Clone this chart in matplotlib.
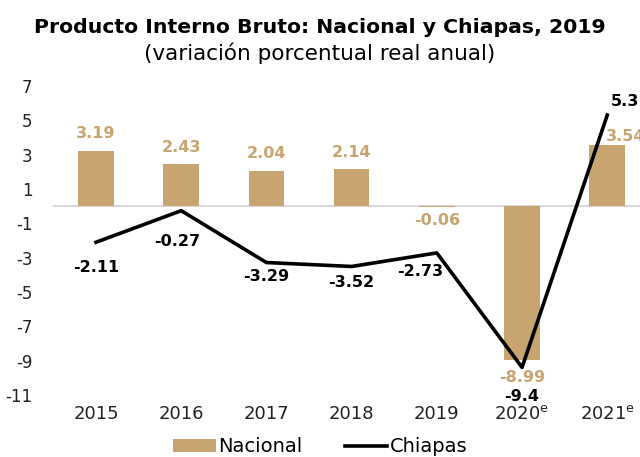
import matplotlib
matplotlib.use('Agg')
import matplotlib.pyplot as plt
import numpy as np

# datos (variacion porcentual real anual)
years = ['2015', '2016', '2017', '2018', '2019', '2020$^{\\mathrm{e}}$', '2021$^{\\mathrm{e}}$']
nacional = [3.19, 2.43, 2.04, 2.14, -0.06, -8.99, 3.54]
chiapas = [-2.11, -0.27, -3.29, -3.52, -2.73, -9.4, 5.3]
nac_txt = ['3.19', '2.43', '2.04', '2.14', '-0.06', '-8.99', '3.54']
chi_txt = ['-2.11', '-0.27', '-3.29', '-3.52', '-2.73', '-9.4', '5.3']
yticks = [7, 5, 3, 1, -1, -3, -5, -7, -9, -11]

plt.rcParams['font.family'] = 'DejaVu Sans'
plt.rcParams['mathtext.fontset'] = 'custom'
plt.rcParams['mathtext.rm'] = 'DejaVu Sans'
plt.rcParams['axes.unicode_minus'] = False

tan = '#C8A470'
fig = plt.figure(figsize=(6.4, 4.57), dpi=100)
ax = fig.add_axes([0.0834, 0.136, 0.932, 0.676])

x = np.arange(len(years))
bars = ax.bar(x, nacional, width=0.417, color=tan, label='Nacional', zorder=2)
line, = ax.plot(x, chiapas, color='black', linewidth=2.6, label='Chiapas', zorder=3)
ax.axhline(0, color='#D9D9D9', linewidth=1.5, zorder=1)

# etiquetas de barras (offsets en pixeles)
nac_off = [(0, 18), (0, 17), (0, 18), (0, 17), (0, -13), (0, -17), (18, 9)]
for i, v in enumerate(nacional):
    ax.annotate(nac_txt[i], (x[i], v), xytext=nac_off[i], textcoords='offset pixels',
                ha='center', va='center', color=tan, fontsize=11.5, fontweight='bold', zorder=4)

chi_off = [(0, -25), (-4, -31), (0, -14), (0, -16), (-17, -19), (0, -29), (18, 14)]
for i, v in enumerate(chiapas):
    ax.annotate(chi_txt[i], (x[i], v), xytext=chi_off[i], textcoords='offset pixels',
                ha='center', va='center', color='black', fontsize=11.5, fontweight='bold', zorder=4)

ax.set_xlim(-0.5, 6.5)
ax.set_ylim(-11, 7)
ax.set_yticks(yticks)
ax.set_xticks(x)
ax.set_xticklabels(years)
ax.tick_params(axis='both', length=0, colors='#222222')
ax.tick_params(axis='x', labelsize=13, pad=7)
ax.tick_params(axis='y', labelsize=12, pad=15)
for s in ax.spines.values():
    s.set_visible(False)

fig.text(0.5, 0.94, 'Producto Interno Bruto: Nacional y Chiapas, 2019',
         ha='center', va='center', fontsize=14.7, fontweight='bold')
fig.text(0.5, 0.883, '(variación porcentual real anual)',
         ha='center', va='center', fontsize=15.5)

fig.legend([bars, line], ['Nacional', 'Chiapas'], loc='center', bbox_to_anchor=(0.5, 0.022),
           ncol=2, frameon=False, fontsize=14, handlelength=2.2, handletextpad=0.1,
           columnspacing=2.2)

fig.savefig('out.png', dpi=100)
